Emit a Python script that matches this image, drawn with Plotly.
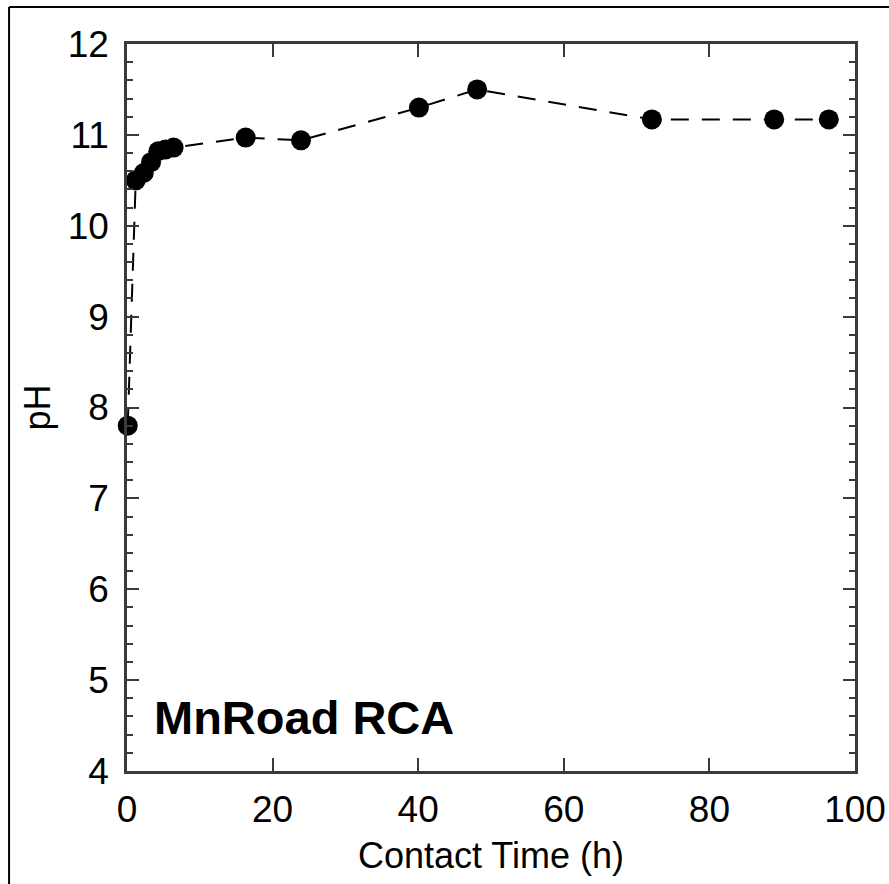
import plotly.graph_objects as go

contact_time_h = [0.1, 1.2, 2.3, 3.3, 4.3, 5.3, 6.4, 16.3, 23.9, 40.1, 48.1, 72.1, 88.9, 96.4]
ph_values = [7.8, 10.5, 10.58, 10.7, 10.82, 10.84, 10.86, 10.97, 10.94, 11.3, 11.5, 11.17, 11.17, 11.17]
x_ticks = [0, 20, 40, 60, 80, 100]
y_ticks = [4, 5, 6, 7, 8, 9, 10, 11, 12]

FONT = "Liberation Sans, Arial, sans-serif"
AX = "#3a3a3a"

fig = go.Figure()
fig.add_trace(go.Scatter(
    x=contact_time_h, y=ph_values, mode="lines+markers",
    line=dict(color="black", width=2, dash="18px,13px"),
    marker=dict(color="black", size=20),
    showlegend=False, cliponaxis=False,
))

common = dict(showline=True, linecolor=AX, linewidth=2.5, mirror="ticks",
              ticks="inside", tickcolor=AX, tickwidth=2, showgrid=False,
              zeroline=False, automargin=False,
              tickfont=dict(family=FONT, size=37, color="black"))

fig.update_xaxes(range=[0, 100], tickvals=x_ticks, ticklen=13,
                 title=dict(text="Contact Time (h)", font=dict(family=FONT, size=36, color="black"), standoff=14),
                 ticklabelstandoff=4, **common)
fig.update_yaxes(range=[4, 12], tickvals=y_ticks, ticklen=12,
                 minor=dict(dtick=0.2, ticks="inside", ticklen=6, tickcolor=AX, tickwidth=2),
                 title=dict(text="pH", font=dict(family=FONT, size=36, color="black"), standoff=7),
                 ticklabelstandoff=8, **common)

fig.add_annotation(x=3.4, y=4.28, xref="x", yref="y", text="<b>MnRoad RCA</b>",
                   showarrow=False, xanchor="left", yanchor="bottom",
                   font=dict(family=FONT, size=47, color="black"))

# outer frame (left and top edges)
fig.add_shape(type="line", xref="paper", yref="paper", x0=-0.162, x1=-0.162, y0=-0.2, y1=1.0509,
              line=dict(color="black", width=2))
fig.add_shape(type="line", xref="paper", yref="paper", x0=-0.162, x1=1.1, y0=1.0509, y1=1.0509,
              line=dict(color="black", width=2))

fig.update_layout(width=889, height=884, margin=dict(l=127, r=34, t=44, b=113),
                  plot_bgcolor="white", paper_bgcolor="white",
                  font=dict(family=FONT, color="black"))
fig.write_html("out.html")
